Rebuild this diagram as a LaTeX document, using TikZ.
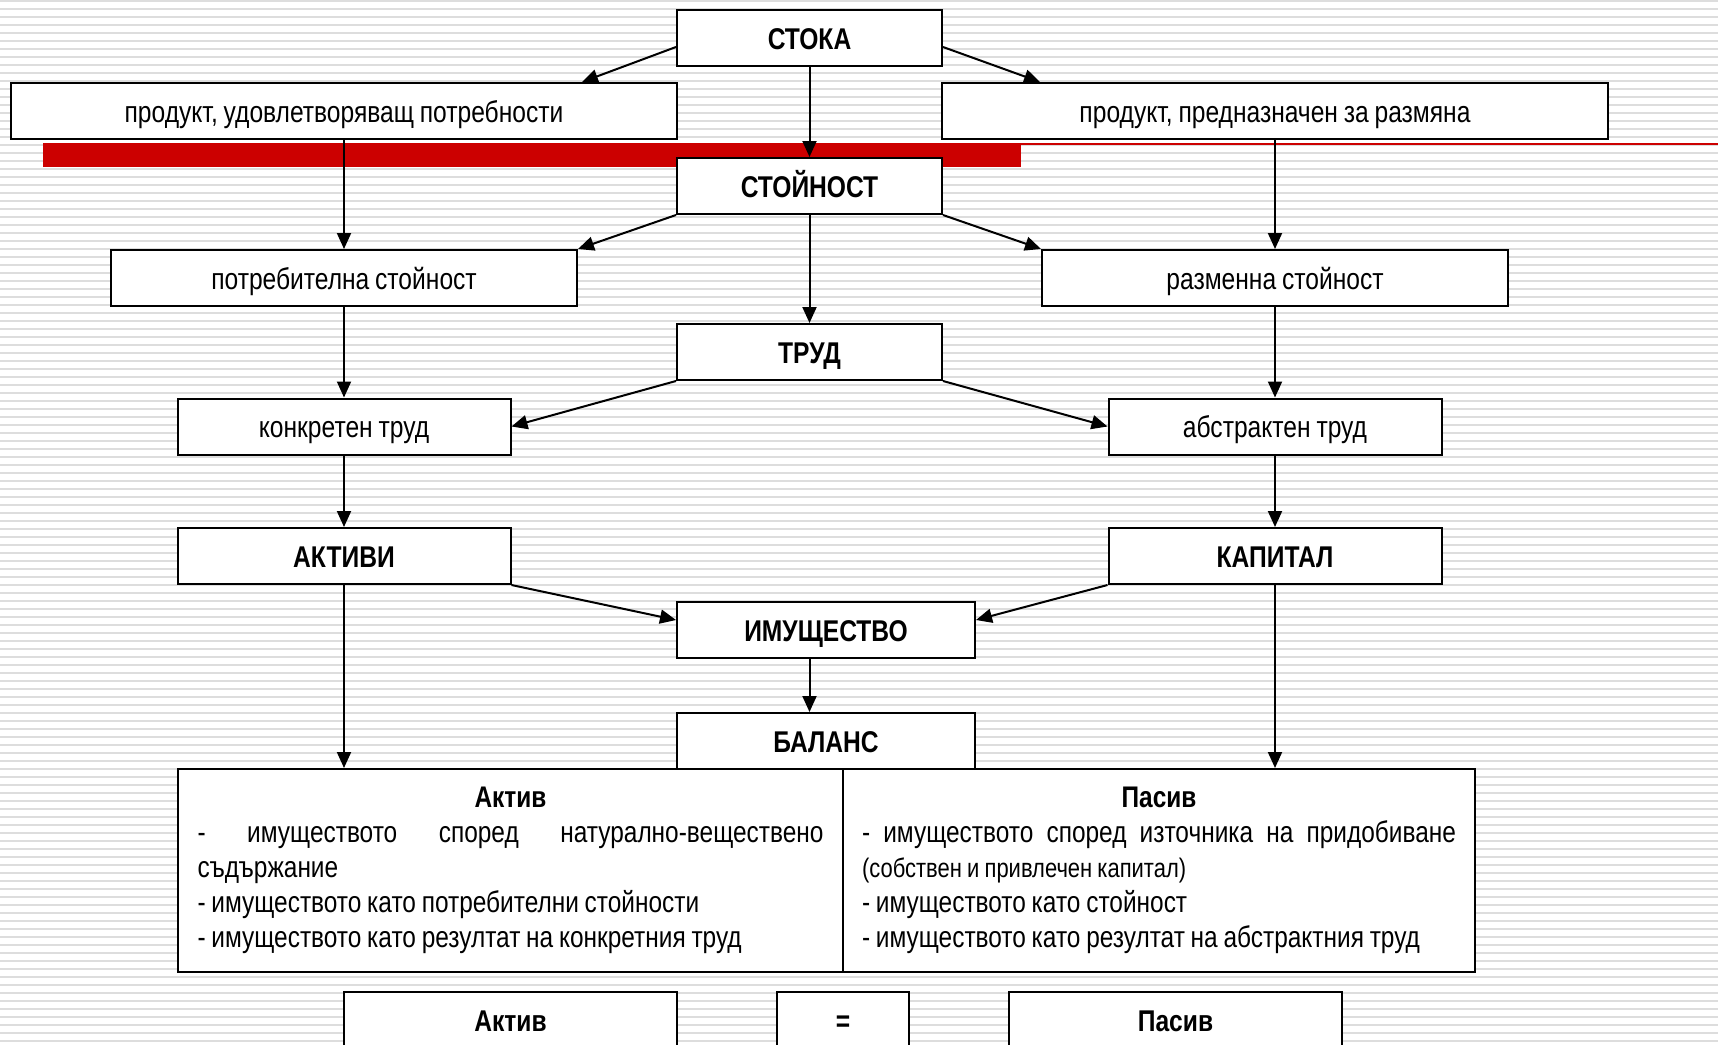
\documentclass[tikz,border=0pt]{standalone}
\usepackage{fontspec}
\setmainfont{Liberation Sans}[FakeStretch=0.82, WordSpace=0.85]
\usetikzlibrary{
    arrows.meta,
    calc
}
\definecolor{stripegray}{RGB}{221,221,221}
\definecolor{barred}{RGB}{204,0,0}

\begin{document}
\begin{tikzpicture}[
        x=1pt, y=-1pt,
        box/.style={draw, line width=2pt, fill=white, minimum height=56pt, inner sep=0pt, text height=22pt, text depth=0pt, font=\fontsize{30}{35}\selectfont},
        keybox/.style={box, font=\fontsize{30}{35}\selectfont\bfseries},
        halfbox/.style={draw, line width=2pt, fill=white, minimum height=203pt, inner sep=0pt, align=flush left, font=\fontsize{29.8}{35}\selectfont},
        arrow/.style={-{Triangle[length=16pt,width=14pt]}, line width=2pt},
        stripe/.style={stripegray, line width=2pt}
    ]
        \clip (0,0) rectangle (1718,1044);

        % Background stripes
        \foreach \k in {0,...,130}
            \draw[stripe] (0,8*\k+1) -- (1718,8*\k+1);

        % Red bar
        \fill[barred] (43,143) rectangle (1021,167);
        \draw[barred, line width=1.5pt] (1021,144) -- (1718,144);

        % Level 1
        \node[keybox, minimum width=265pt] (stoka) at (809.5,38) {СТОКА};
        \node[box, minimum width=666pt] (prodl) at (344,111) {продукт, удовлетворяващ потребности};
        \node[box, minimum width=666pt] (prodr) at (1275,111) {продукт, предназначен за размяна};

        % Level 2
        \node[keybox, minimum width=265pt] (stoj) at (809.5,186) {СТОЙНОСТ};
        \node[box, minimum width=466pt] (potr) at (344,278) {потребителна стойност};
        \node[box, minimum width=466pt] (razm) at (1275,278) {разменна стойност};

        % Level 3
        \node[keybox, minimum width=265pt] (trud) at (809.5,352) {ТРУД};
        \node[box, minimum width=333pt] (konk) at (344,426.5) {конкретен труд};
        \node[box, minimum width=333pt] (abst) at (1275,426.5) {абстрактен труд};

        % Level 4
        \node[keybox, minimum width=333pt] (akt) at (344,556) {АКТИВИ};
        \node[keybox, minimum width=333pt] (kap) at (1275,556) {КАПИТАЛ};
        \node[keybox, minimum width=298pt] (imu) at (826,630) {ИМУЩЕСТВО};
        \node[keybox, minimum width=298pt] (bal) at (826,741) {БАЛАНС};

        % Balance sheet
        \node[halfbox, minimum width=665pt, text width=626pt] (aktivbox) at (510.5,870.5) {
            \makebox[\hsize]{\bfseries Актив}\\
            \makebox[\hsize]{-\hfill имуществото\hfill според\hfill натурално-веществено}\\
            съдържание\\
            - имуществото като потребителни стойности\\
            - имуществото като резултат на конкретния труд
        };
        \node[halfbox, minimum width=632pt, text width=594pt] (pasivbox) at (1159,870.5) {
            \makebox[\hsize]{\bfseries Пасив}\\
            \makebox[\hsize]{-\hfill имуществото\hfill според\hfill източника\hfill на\hfill придобиване}\\
            {\fontsize{26.8}{33}\selectfont (собствен и привлечен капитал)}\\
            - имуществото като стойност\\
            - имуществото като резултат на абстрактния труд
        };

        % Equation
        \node[keybox, minimum width=333pt] (aktb) at (510.5,1020) {Актив};
        \node[keybox, minimum width=132pt] (eqb) at (843,1020) {=};
        \node[keybox, minimum width=333pt] (pasb) at (1175.5,1020) {Пасив};

        % Arrows
        \draw[arrow] ($(stoka.west)+(0,9)$) -- ($(prodl.north east)+(-96,0)$);
        \draw[arrow] ($(stoka.east)+(0,9)$) -- ($(prodr.north west)+(99,0)$);
        \draw[arrow] (stoka) -- (stoj);
        \draw[arrow] (prodl) -- (potr);
        \draw[arrow] (prodr) -- (razm);
        \draw[arrow] (stoj.south west) -- (potr.north east);
        \draw[arrow] (stoj.south east) -- (razm.north west);
        \draw[arrow] (stoj) -- (trud);
        \draw[arrow] (potr) -- (konk);
        \draw[arrow] (razm) -- (abst);
        \draw[arrow] (trud.south west) -- (konk.east);
        \draw[arrow] (trud.south east) -- (abst.west);
        \draw[arrow] (konk) -- (akt);
        \draw[arrow] (abst) -- (kap);
        \draw[arrow] (akt.south east) -- ($(imu.west)+(0,-10)$);
        \draw[arrow] (kap.south west) -- ($(imu.east)+(0,-10)$);
        \draw[arrow] (imu.south -| stoka) -- (bal.north -| stoka);
        \draw[arrow] (akt) -- (akt |- aktivbox.north);
        \draw[arrow] (kap) -- (kap |- pasivbox.north);
    \end{tikzpicture}
\end{document}
